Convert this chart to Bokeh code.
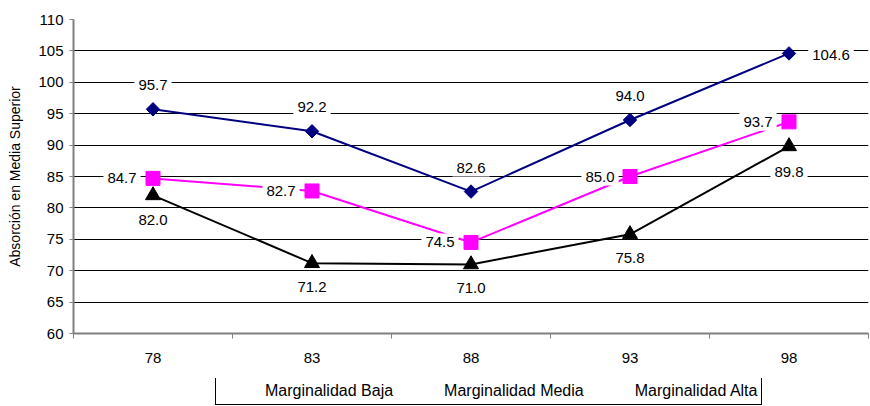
from bokeh.plotting import figure
from bokeh.layouts import column
from bokeh.models import (ColumnDataSource, FixedTicker, Legend,
                          LegendItem, Range1d)
from bokeh.core.properties import value
from bokeh.embed import file_html
from bokeh.resources import INLINE
import math

# Survey years (categories) and absorption rates per marginality level
years = ["78", "83", "88", "93", "98"]
baja = [95.7, 92.2, 82.6, 94.0, 104.6]
media = [84.7, 82.7, 74.5, 85.0, 93.7]
alta = [82.0, 71.2, 71.0, 75.8, 89.8]
y_ticks = [60, 65, 70, 75, 80, 85, 90, 95, 100, 105, 110]

xs = list(range(len(years)))
FONT = "Liberation Sans"

p = figure(width=870, height=378,
           x_range=Range1d(-0.5, len(years) - 0.5),
           y_range=Range1d(60, 110), output_backend="svg", toolbar_location=None,
           min_border_left=73, min_border_right=2, min_border_top=19,
           min_border_bottom=45)
p.outline_line_color = None
p.background_fill_color = "white"

# axes
xt = FixedTicker(ticks=xs, minor_ticks=[i - 0.5 for i in range(len(years) + 1)])
p.xaxis.ticker = xt
p.xaxis.major_label_overrides = {i: y for i, y in enumerate(years)}
p.xaxis.major_tick_out = 0
p.xaxis.major_tick_in = 0
p.xaxis.minor_tick_out = 5
p.xaxis.minor_tick_in = 0
p.xaxis.major_label_standoff = 14
p.xaxis.axis_line_color = "#808080"
p.xaxis.axis_line_width = 2
p.xaxis.minor_tick_line_color = "#808080"

p.yaxis.ticker = FixedTicker(ticks=y_ticks)
p.yaxis.minor_tick_line_color = None
p.yaxis.major_tick_out = 4
p.yaxis.major_tick_in = 0
p.yaxis.major_label_standoff = 6
p.yaxis.axis_line_color = "#808080"
p.yaxis.axis_line_width = 2
p.yaxis.major_tick_line_color = "#808080"
p.yaxis.axis_label = "Absorción en Media Superior"
p.yaxis.axis_label_standoff = 12
p.yaxis.axis_label_text_font_style = "normal"
p.yaxis.axis_label_text_font_size = "14px"
p.yaxis.axis_label_text_font = FONT
p.yaxis.axis_label_text_color = "black"

for ax in (p.xaxis, p.yaxis):
    ax.major_label_text_font = FONT
    ax.major_label_text_font_size = "15px"
    ax.major_label_text_color = "black"

p.xgrid.grid_line_color = None
p.ygrid.grid_line_color = "black"
p.ygrid.grid_line_width = 1

series = [
    ("Marginalidad Baja", baja, "#000080", "square", 9.5, math.pi / 4),
    ("Marginalidad Media", media, "#FF00FF", "square", 14, 0),
    ("Marginalidad Alta", alta, "black", "triangle", 15, 0),
]

# label placement (screen offsets in px) for each series
placement = {
    "Marginalidad Baja": ([0, 0, 0, 0, 42], [-24, -24, -24, -24, 2]),
    "Marginalidad Media": ([-31, -31, -31, -30, -31], [0, 0, 0, 0, 0]),
    "Marginalidad Alta": ([0, 0, 0, 0, 0], [25, 24, 24, 24, 26]),
}

sources = []
for name, vals, color, marker, size, ang in series:
    dx, dy = placement[name]
    src = ColumnDataSource(dict(x=xs, y=vals, txt=[f"{v:.1f}" for v in vals],
                                dx=dx, dy=dy))
    p.line("x", "y", source=src, line_color=color, line_width=2)
    p.scatter("x", "y", source=src, marker=marker, size=size, angle=ang,
              fill_color=color, line_color=color)
    sources.append(src)

# value labels on white boxes, drawn above all lines and markers
for src in sources:
    p.text("x", "y", text="txt", source=src, x_offset="dx", y_offset="dy",
           text_align="center", text_baseline="middle",
           text_font=value(FONT), text_font_size="15px", text_color="black",
           background_fill_color="white", padding=4)

# legend strip under the chart: styled series keys with a boxed legend
key = figure(width=870, height=28, x_range=Range1d(0, 1), y_range=Range1d(0, 1),
             output_backend="svg", toolbar_location=None,
             x_axis_location=None, y_axis_location=None, min_border=0)
key.outline_line_color = None
key.grid.visible = False

items = []
for name, vals, color, marker, size, ang in series:
    ln = key.line(x=[], y=[], line_color=color, line_width=2)
    sc = key.scatter(x=[], y=[], marker=marker, size=min(size, 11), angle=ang,
                     fill_color=color, line_color=color)
    items.append(LegendItem(label=name, renderers=[ln, sc]))

legend = Legend(items=items, orientation="horizontal", location=(142, 1),
                label_text_font=FONT, label_text_font_size="16px",
                label_text_color="black",
                glyph_width=40, glyph_height=16, label_height=16,
                label_standoff=5, spacing=6,
                padding=4, margin=0, border_line_color="black",
                border_line_alpha=1.0,
                border_line_width=1, background_fill_color="white")
key.add_layout(legend, "center")

layout = column(p, key, spacing=0)

open("out.html", "w").write(file_html(layout, INLINE))
